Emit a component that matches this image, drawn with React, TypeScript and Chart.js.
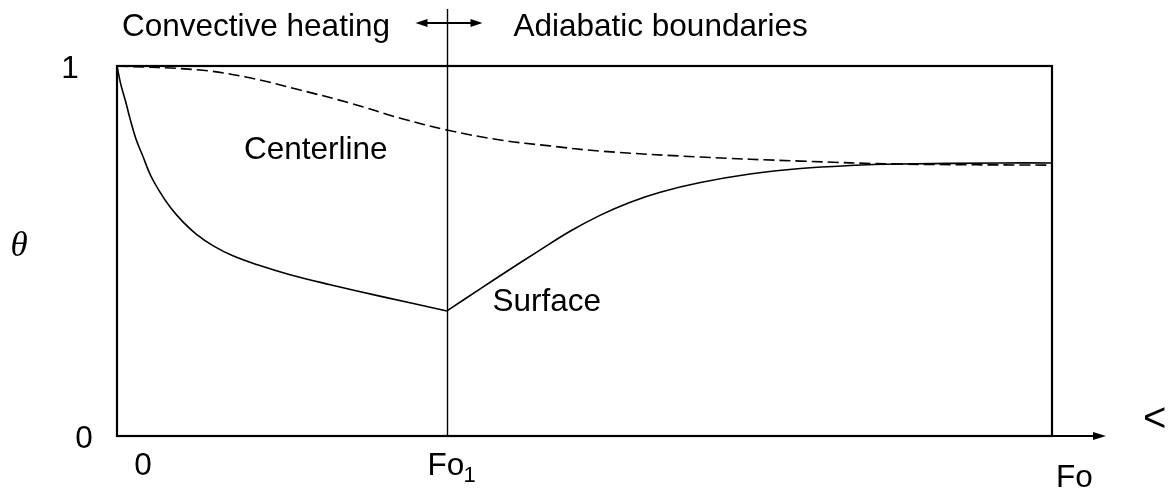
import { useEffect, useRef } from 'react';
import { Chart, registerables } from 'chart.js';

Chart.register(...registerables);

// Surface temperature during convective heating (0 .. Fo1)
const surfaceFoBefore = [0, 0.004, 0.009, 0.014, 0.02, 0.028, 0.036, 0.046, 0.057, 0.07, 0.085, 0.103, 0.124, 0.151, 0.185, 0.228, 0.281, 0.3529];
const surfaceThetaBefore = [1, 0.951, 0.906, 0.857, 0.805, 0.754, 0.704, 0.659, 0.618, 0.58, 0.545, 0.514, 0.487, 0.462, 0.436, 0.409, 0.378, 0.338];
// Surface temperature with adiabatic boundaries (Fo1 .. end)
const surfaceFoAfter = [0.3529, 0.388, 0.42, 0.449, 0.485, 0.517, 0.549, 0.581, 0.624, 0.677, 0.731, 0.784, 0.837, 0.944, 1.0];
const surfaceThetaAfter = [0.338, 0.397, 0.45, 0.497, 0.554, 0.597, 0.632, 0.659, 0.685, 0.708, 0.723, 0.731, 0.735, 0.738, 0.738];
// Centerline temperature
const centerFo = [0, 0.089, 0.142, 0.196, 0.249, 0.303, 0.3529, 0.41, 0.463, 0.517, 0.624, 0.731, 0.837, 1.0];
const centerTheta = [1, 0.989, 0.968, 0.935, 0.9, 0.859, 0.827, 0.8, 0.784, 0.77, 0.754, 0.743, 0.735, 0.732];

const fo1 = 0.3529;
const yTickValues = [0, 1];
const yTickLabels = ['0', '1'];
const xStartLabel = '0';
const fo1Label = 'Fo';
const fo1Sub = '1';
const xAxisTitle = 'Fo';
const yAxisTitle = 'θ';
const regionLeftLabel = 'Convective heating';
const regionRightLabel = 'Adiabatic boundaries';
const centerlineLabel = 'Centerline';
const surfaceLabel = 'Surface';
const cornerMark = '<';

const FONT = '"Liberation Sans", Arial, Helvetica, sans-serif';

function pts(xs: number[], ys: number[]) {
  return xs.map((v, i) => ({ x: v, y: ys[i] }));
}

function arrowHead(ctx: CanvasRenderingContext2D, tipX: number, tipY: number, dir: number, len: number, half: number) {
  ctx.beginPath();
  ctx.moveTo(tipX, tipY);
  ctx.lineTo(tipX - dir * len, tipY - half);
  ctx.lineTo(tipX - dir * len, tipY + half);
  ctx.closePath();
  ctx.fill();
}

const decorPlugin = {
  id: 'decor',
  afterDraw(chart: any) {
    const { ctx, chartArea: a, scales } = chart;
    const xs = scales.x;
    const ys = scales.y;
    ctx.save();
    ctx.strokeStyle = '#000';
    ctx.fillStyle = '#000';

    // frame
    ctx.lineWidth = 2.2;
    ctx.strokeRect(a.left, a.top, a.right - a.left, a.bottom - a.top);

    // Fo1 divider
    const xf = Math.round(xs.getPixelForValue(fo1)) + 0.5;
    ctx.lineWidth = 1.4;
    ctx.beginPath();
    ctx.moveTo(xf, a.top - 57);
    ctx.lineTo(xf, a.bottom);
    ctx.stroke();

    // double arrow at top
    const ay = a.top - 43;
    ctx.lineWidth = 2;
    ctx.beginPath();
    ctx.moveTo(xf - 28, ay);
    ctx.lineTo(xf + 30, ay);
    ctx.stroke();
    arrowHead(ctx, xf - 32, ay, -1, 12, 4);
    arrowHead(ctx, xf + 35, ay, 1, 12, 4);

    // x-axis arrow
    const by = a.bottom;
    ctx.lineWidth = 2.2;
    ctx.beginPath();
    ctx.moveTo(a.right, by);
    ctx.lineTo(a.right + 44, by);
    ctx.stroke();
    arrowHead(ctx, a.right + 54, by, 1, 13, 4);

    // texts
    ctx.textBaseline = 'alphabetic';
    ctx.font = `31.5px ${FONT}`;
    ctx.textAlign = 'left';
    ctx.fillText(regionLeftLabel, a.left + 5, a.top - 30);
    ctx.fillText(regionRightLabel, xf + 66, a.top - 30);
    ctx.fillText(centerlineLabel, a.left + 127, a.top + 93);
    ctx.fillText(surfaceLabel, xf + 45, a.top + 245);

    // y tick labels
    ctx.textAlign = 'center';
    yTickValues.forEach((v, i) => {
      const py = ys.getPixelForValue(v);
      const cx = v === 1 ? a.left - 47 : a.left - 33;
      ctx.fillText(yTickLabels[i], cx, py + 12);
    });

    // x labels
    ctx.fillText(xStartLabel, xs.getPixelForValue(0) + 26, a.bottom + 39);
    ctx.textAlign = 'left';
    ctx.fillText(fo1Label, xf - 20, a.bottom + 39);
    ctx.font = `22px ${FONT}`;
    ctx.fillText(fo1Sub, xf + 16, a.bottom + 46);
    ctx.font = `31.5px ${FONT}`;
    ctx.fillText(xAxisTitle, a.right + 4, a.bottom + 51);

    ctx.font = `40px ${FONT}`;
    ctx.fillText(cornerMark, a.right + 91, a.bottom - 5);

    // theta
    ctx.font = `italic 35px "Liberation Serif", "Times New Roman", serif`;
    ctx.textAlign = 'center';
    ctx.fillText(yAxisTitle, 19, ys.getPixelForValue(0.5) + 5);

    ctx.restore();
  },
};

export default function App() {
  const ref = useRef<HTMLCanvasElement | null>(null);
  useEffect(() => {
    if (!ref.current) return;
    const lineBase = {
      borderColor: '#000',
      borderWidth: 1.6,
      pointRadius: 0,
      fill: false,
      tension: 0.4,
    };
    const chart = new Chart(ref.current, {
      type: 'line',
      data: {
        datasets: [
          { ...lineBase, label: 'Surface (heating)', data: pts(surfaceFoBefore, surfaceThetaBefore) },
          { ...lineBase, label: 'Surface (adiabatic)', data: pts(surfaceFoAfter, surfaceThetaAfter) },
          { ...lineBase, label: 'Centerline', data: pts(centerFo, centerTheta), borderDash: [11, 5] },
        ],
      },
      options: {
        animation: false,
        responsive: false,
        devicePixelRatio: 1,
        layout: { padding: { left: 117, right: 119, top: 66, bottom: 54 } },
        plugins: { legend: { display: false }, tooltip: { enabled: false }, title: { display: false } },
        scales: {
          x: { type: 'linear', min: 0, max: 1, display: false },
          y: { type: 'linear', min: 0, max: 1, display: false },
        },
      },
      plugins: [decorPlugin],
    });
    return () => chart.destroy();
  }, []);
  return (
    <div style={{ position: 'fixed', left: 0, top: 0, width: 1171, height: 490, background: '#fff' }}>
      <canvas ref={ref} width={1171} height={490} />
    </div>
  );
}
